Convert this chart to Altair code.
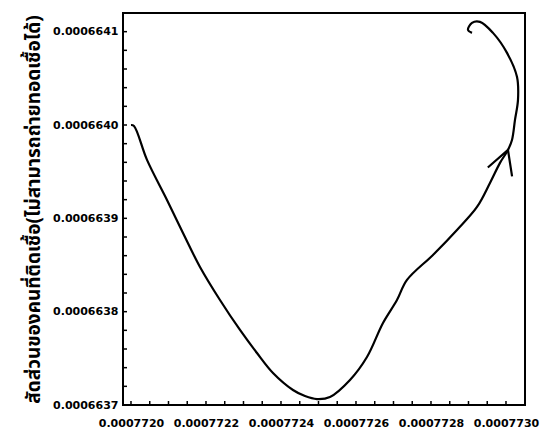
import altair as alt
import pandas as pd

# Trajectory of the model in the phase plane, in drawing order
x_vals = [
    0.0007720000, 0.0007720080, 0.0007720427, 0.0007720960, 0.0007721387,
    0.0007721840, 0.0007722373, 0.0007722907, 0.0007723360, 0.0007723787,
    0.0007724320, 0.0007724640, 0.0007724960, 0.0007725307, 0.0007725840,
    0.0007726293, 0.0007726720, 0.0007727093, 0.0007727360, 0.0007728053,
    0.0007728693, 0.0007729227, 0.0007729573, 0.0007729840, 0.0007730053,
    0.0007730160, 0.0007730240, 0.0007730320, 0.0007730293, 0.0007730027,
    0.0007729653, 0.0007729307, 0.0007729093, 0.0007728987, 0.0007729093,
]
y_vals = [
    0.0006640000, 0.0006639990, 0.0006639626, 0.0006639197, 0.0006638843,
    0.0006638479, 0.0006638125, 0.0006637804, 0.0006637557, 0.0006637343,
    0.0006637161, 0.0006637096, 0.0006637064, 0.0006637086, 0.0006637268,
    0.0006637514, 0.0006637879, 0.0006638125, 0.0006638340, 0.0006638608,
    0.0006638876, 0.0006639122, 0.0006639379, 0.0006639594, 0.0006639733,
    0.0006639840, 0.0006640055, 0.0006640269, 0.0006640516, 0.0006640773,
    0.0006640987, 0.0006641105, 0.0006641094, 0.0006641019, 0.0006640987,
]

# direction arrow sits on this point of the trajectory
arrow_index = 24
arrow_angle = 20

x_domain = [0.0007719787, 0.0007730507]
y_domain = [0.0006637000, 0.0006641200]

x_labels = [0.0007720, 0.0007722, 0.0007724, 0.0007726, 0.0007728, 0.0007730]
y_labels = [0.0006637, 0.0006638, 0.0006639, 0.0006640, 0.0006641]

# small inward tick marks: every 0.5e-7 on x, every 0.2e-7 on y
x_ticks = [round(7720 + 0.5 * k, 1) * 1e-7 for k in range(21)]
y_ticks = [round(6637 + 0.2 * k, 1) * 1e-7 for k in range(21)]

y_title = "สัดส่วนของคนที่ติดเชื้อ(ไม่สามารถถ่ายทอดเชื้อได้)"

W, H = 402, 392
TICK = 4

df = pd.DataFrame({"i": range(len(x_vals)), "x": x_vals, "y": y_vals})
arrow_df = df.iloc[[arrow_index]]
xt_df = pd.DataFrame({"x": x_ticks})
yt_df = pd.DataFrame({"y": y_ticks})

label_font = "DejaVu Sans"

x_axis = alt.Axis(
    values=x_labels, format=".7f", title=None,
    domain=False, grid=False, ticks=False,
    labelPadding=12, labelFont=label_font, labelFontWeight="bold",
    labelFontSize=11, labelColor="black",
    labelOverlap=False, labelFlush=False, labelBound=False,
)
y_axis = alt.Axis(
    values=y_labels, format=".7f", title=y_title,
    domain=False, grid=False, ticks=False,
    labelPadding=5, labelFont=label_font, labelFontWeight="bold",
    labelFontSize=11, labelColor="black",
    labelOverlap=False, labelFlush=False, labelBound=False,
    titleFont="Noto Sans Thai, Tahoma, DejaVu Sans, sans-serif",
    titleFontSize=19, titleFontWeight="bold", titleColor="black",
    titlePadding=9,
)

x_scale = alt.Scale(domain=x_domain, nice=False, zero=False)
y_scale = alt.Scale(domain=y_domain, nice=False, zero=False)

curve = alt.Chart(df).mark_line(
    color="black", strokeWidth=2.2, interpolate="catmull-rom"
).encode(
    x=alt.X("x:Q", scale=x_scale, axis=x_axis),
    y=alt.Y("y:Q", scale=y_scale, axis=y_axis),
    order="i:Q",
)

arrow = alt.Chart(arrow_df).mark_point(
    shape="M -0.55 1 L 0 0 L 0.55 1",
    filled=False, stroke="black", strokeWidth=2.2,
    size=2200, angle=arrow_angle, opacity=1,
).encode(
    x=alt.X("x:Q", scale=x_scale, axis=x_axis),
    y=alt.Y("y:Q", scale=y_scale, axis=y_axis),
)

x_tick_marks = alt.Chart(xt_df).mark_rule(color="black", strokeWidth=1.5).encode(
    x=alt.X("x:Q", scale=x_scale, axis=x_axis),
    y=alt.value(H),
    y2=alt.value(H - TICK),
)

y_tick_marks = alt.Chart(yt_df).mark_rule(color="black", strokeWidth=1.5).encode(
    y=alt.Y("y:Q", scale=y_scale, axis=y_axis),
    x=alt.value(0),
    x2=alt.value(TICK),
)

chart = (
    alt.layer(curve, arrow, x_tick_marks, y_tick_marks)
    .properties(
        width=W, height=H,
        autosize=alt.AutoSizeParams(type="none"),
        padding={"left": 123, "top": 13, "right": 17, "bottom": 32},
        background="white",
    )
    .configure_view(stroke="black", strokeWidth=2)
)

chart.save("out.html", embed_options={"renderer": "svg", "actions": False})
